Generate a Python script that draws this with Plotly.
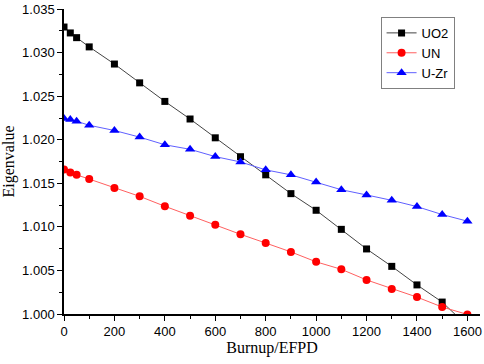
import plotly.graph_objects as go

burnup = [0, 25, 50, 100, 200, 300, 400, 500, 600, 700, 800, 900, 1000,
          1100, 1200, 1300, 1400, 1500, 1600]
uo2 = [1.03295, 1.03227, 1.03173, 1.03067, 1.0287, 1.02654, 1.02441, 1.02239,
       1.02023, 1.01806, 1.01598, 1.01382, 1.01191, 1.00972, 1.00747, 1.00547,
       1.00334, 1.00137, 0.99863]
un = [1.01658, 1.01624, 1.01598, 1.01549, 1.01446, 1.01351, 1.01237, 1.01128,
      1.01025, 1.00915, 1.00815, 1.00713, 1.00599, 1.00513, 1.00391, 1.00288,
      1.00194, 1.00080, 0.99995]
uzr = [1.02244, 1.02232, 1.02213, 1.02167, 1.02107, 1.02031, 1.01943, 1.01891,
       1.01807, 1.01746, 1.01655, 1.01598, 1.01515, 1.01427, 1.01367, 1.01305,
       1.01233, 1.01142, 1.01066]

x_ticks = [0, 200, 400, 600, 800, 1000, 1200, 1400, 1600]
y_ticks = [1.000, 1.005, 1.010, 1.015, 1.020, 1.025, 1.030, 1.035]
y_labels = ["1.000", "1.005", "1.010", "1.015", "1.020", "1.025", "1.030", "1.035"]

fig = go.Figure()
fig.add_trace(go.Scatter(x=burnup, y=uo2, name="UO2", mode="lines+markers",
                         line=dict(color="#444444", width=1),
                         marker=dict(symbol="square", size=7, color="black")))
fig.add_trace(go.Scatter(x=burnup, y=un, name="UN", mode="lines+markers",
                         line=dict(color="#ff6060", width=1),
                         marker=dict(symbol="circle", size=8, color="#ff0000")))
fig.add_trace(go.Scatter(x=burnup, y=uzr, name="U-Zr", mode="lines+markers",
                         line=dict(color="#6060ff", width=1),
                         marker=dict(symbol="triangle-up", size=9, color="#0000ff")))

axis_common = dict(showline=True, linecolor="black", linewidth=1.5,
                   ticks="outside", ticklen=5, tickwidth=1.2, tickcolor="black",
                   showgrid=False, zeroline=False, mirror=False,
                   ticklabeloverflow="allow",
                   tickfont=dict(family="Liberation Sans, Arial", size=13, color="black"))

fig.update_xaxes(range=[0, 1650], tickvals=x_ticks,
                 minor=dict(dtick=100, ticklen=3, tickwidth=1, tickcolor="black", ticks="outside"),
                 title=dict(text="Burnup/EFPD", standoff=0,
                            font=dict(family="Liberation Serif, Times New Roman", size=16, color="black")),
                 **axis_common)
fig.update_yaxes(range=[1.000, 1.03502], tickvals=y_ticks, ticktext=y_labels,
                 minor=dict(tickvals=[1.0025, 1.0075, 1.0125, 1.0175, 1.0225, 1.0275, 1.0325],
                            ticklen=3, tickwidth=1, tickcolor="black", ticks="outside"),
                 title=dict(text="Eigenvalue", standoff=4,
                            font=dict(family="Liberation Serif, Times New Roman", size=16, color="black")),
                 **axis_common)

fig.update_layout(
    width=484, height=364,
    margin=dict(l=64, r=2, t=7, b=50),
    plot_bgcolor="white", paper_bgcolor="white",
    legend=dict(x=0.761, y=0.974, xanchor="left", yanchor="top",
                bordercolor="#808080", borderwidth=1, bgcolor="white",
                font=dict(family="Liberation Sans, Arial", size=13, color="black"),
                tracegroupgap=0, itemwidth=30),
)

fig.write_html("out.html", config={"displayModeBar": False},
               post_script="document.body.style.margin='0';document.body.style.overflow='hidden';")
